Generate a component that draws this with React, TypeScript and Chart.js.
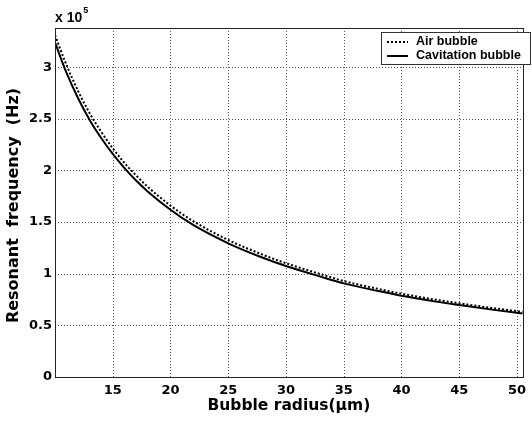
import { useEffect, useRef } from "react";
import { Chart, registerables } from "chart.js";

Chart.register(...registerables);

// Bubble radius in micrometres
const radiusUm = [10, 11, 12, 13, 14, 15, 16, 17, 18, 20, 22, 25, 28, 30, 33, 35, 38, 40, 43, 45, 48, 50, 50.5];
// Resonant frequency, in units of 10^5 Hz
const airBubble = [3.31, 3.02, 2.77, 2.555, 2.375, 2.215, 2.075, 1.955, 1.845, 1.66, 1.507, 1.327, 1.184, 1.102, 0.996, 0.93, 0.853, 0.807, 0.748, 0.714, 0.666, 0.638, 0.631];
const cavitationBubble = [3.24, 2.945, 2.7, 2.49, 2.315, 2.16, 2.025, 1.905, 1.8, 1.62, 1.47, 1.295, 1.155, 1.075, 0.972, 0.907, 0.832, 0.787, 0.73, 0.697, 0.65, 0.622, 0.616];

const xTicks = [15, 20, 25, 30, 35, 40, 45, 50];
const yTicks = [0, 0.5, 1, 1.5, 2, 2.5, 3];
const exponent = "5";
const xTitle = "Bubble radius(\u00b5m)";
const yTitle = "Resonant  frequency  (Hz)";
const seriesNames = ["Air bubble", "Cavitation bubble"];

const SANS = "'Liberation Sans', Arial, sans-serif";
const WIDE = "'DejaVu Sans', sans-serif";

// dotted grid drawn from the chart's own scales
const dottedGrid = {
  id: "dottedGrid",
  beforeDatasetsDraw(chart: any) {
    const { ctx, chartArea: a, scales } = chart;
    ctx.save();
    ctx.strokeStyle = "#555";
    ctx.lineWidth = 1;
    ctx.setLineDash([1, 2]);
    xTicks.forEach((v) => {
      const x = Math.round(scales.x.getPixelForValue(v)) + 0.5;
      ctx.beginPath();
      ctx.moveTo(x, a.top);
      ctx.lineTo(x, a.bottom);
      ctx.stroke();
    });
    yTicks.forEach((v) => {
      const y = Math.round(scales.y.getPixelForValue(v)) + 0.5;
      ctx.beginPath();
      ctx.moveTo(a.left, y);
      ctx.lineTo(a.right, y);
      ctx.stroke();
    });
    ctx.restore();
  },
};

const decorations = {
  id: "decorations",
  afterDraw(chart: any) {
    const { ctx, chartArea: a } = chart;
    ctx.save();
    // axes box
    ctx.strokeStyle = "#222";
    ctx.lineWidth = 1;
    ctx.setLineDash([]);
    ctx.strokeRect(Math.round(a.left) + 0.5, Math.round(a.top) + 0.5, Math.round(a.right - a.left), Math.round(a.bottom - a.top));

    ctx.fillStyle = "#000";
    // exponent label
    ctx.font = `bold 14px ${SANS}`;
    ctx.textBaseline = "alphabetic";
    ctx.textAlign = "left";
    ctx.fillText("x 10", a.left, a.top - 6);
    const w = ctx.measureText("x 10").width;
    ctx.font = `bold 9px ${SANS}`;
    ctx.fillText(exponent, a.left + w + 1, a.top - 15);

    // x title
    ctx.font = `bold 15.5px ${WIDE}`;
    ctx.textAlign = "center";
    ctx.textBaseline = "middle";
    ctx.fillText(xTitle, (a.left + a.right) / 2, 406);

    // y title
    ctx.save();
    ctx.translate(14, (a.top + a.bottom) / 2 + 3);
    ctx.rotate(-Math.PI / 2);
    ctx.font = `bold 16px ${WIDE}`;
    ctx.fillText(yTitle, 0, 0);
    ctx.restore();

    // legend
    const lx = 381, ly = 32, lw = 149, lh = 32;
    ctx.fillStyle = "#fff";
    ctx.fillRect(lx, ly, lw, lh);
    ctx.strokeStyle = "#333";
    ctx.strokeRect(lx + 0.5, ly + 0.5, lw, lh);
    const rows = [ly + 10, ly + 24];
    ctx.font = `bold 12.5px ${SANS}`;
    ctx.textAlign = "left";
    ctx.textBaseline = "middle";
    rows.forEach((y, i) => {
      ctx.beginPath();
      ctx.lineWidth = 2;
      ctx.strokeStyle = "#000";
      ctx.setLineDash(i === 0 ? [2, 2] : []);
      ctx.moveTo(lx + 6, y);
      ctx.lineTo(lx + 27, y);
      ctx.stroke();
      ctx.setLineDash([]);
      ctx.fillStyle = "#000";
      ctx.fillText(seriesNames[i], lx + 35, y);
    });
    ctx.restore();
  },
};

export default function App() {
  const canvasRef = useRef<HTMLCanvasElement>(null);

  useEffect(() => {
    const canvas = canvasRef.current;
    if (!canvas) return;
    const chart = new Chart(canvas, {
      type: "line",
      data: {
        datasets: [
          {
            label: seriesNames[0],
            data: radiusUm.map((x, i) => ({ x, y: airBubble[i] })),
            borderColor: "#000",
            borderWidth: 2,
            borderDash: [2, 2],
            pointRadius: 0,
            cubicInterpolationMode: "monotone",
          },
          {
            label: seriesNames[1],
            data: radiusUm.map((x, i) => ({ x, y: cavitationBubble[i] })),
            borderColor: "#000",
            borderWidth: 2,
            pointRadius: 0,
            cubicInterpolationMode: "monotone",
          },
        ],
      },
      options: {
        animation: false,
        responsive: false,
        devicePixelRatio: 1,
        layout: { padding: { top: 28, right: 2, left: 0, bottom: 0 } },
        plugins: { legend: { display: false }, tooltip: { enabled: false } },
        scales: {
          x: {
            type: "linear",
            min: 10,
            max: 50.5,
            afterBuildTicks: (s: any) => {
              s.ticks = xTicks.map((v) => ({ value: v }));
            },
            afterFit: (s: any) => {
              s.height = 48;
            },
            grid: { display: false, drawTicks: false },
            border: { display: false },
            ticks: {
              color: "#000",
              font: { family: WIDE, size: 13, weight: "bold" },
              padding: 6,
              maxRotation: 0,
              autoSkip: false,
            },
          },
          y: {
            type: "linear",
            min: 0,
            max: 3.38,
            afterBuildTicks: (s: any) => {
              s.ticks = yTicks.map((v) => ({ value: v }));
            },
            afterFit: (s: any) => {
              s.width = 55;
            },
            grid: { display: false, drawTicks: false },
            border: { display: false },
            ticks: {
              color: "#000",
              font: { family: WIDE, size: 13, weight: "bold" },
              padding: 3,
              autoSkip: false,
              callback: (v: any) => String(v),
            },
          },
        },
      },
      plugins: [dottedGrid, decorations],
    });
    return () => chart.destroy();
  }, []);

  return (
    <div style={{ position: "fixed", left: 0, top: 0, width: 532, height: 425, background: "#fff" }}>
      <canvas ref={canvasRef} width={532} height={425} />
    </div>
  );
}
